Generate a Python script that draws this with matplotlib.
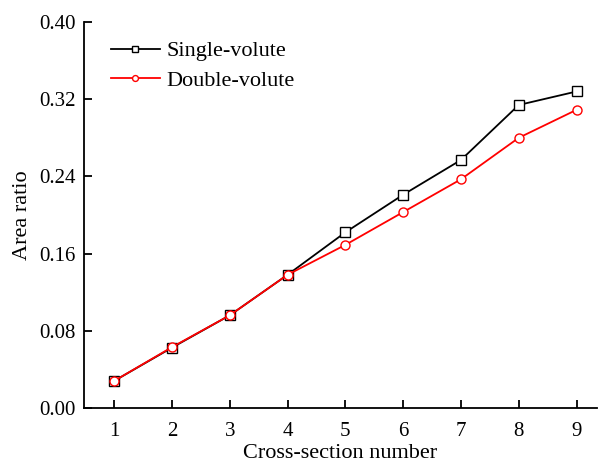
import matplotlib
matplotlib.use("Agg")
import matplotlib.pyplot as plt
from matplotlib.ticker import FormatStrFormatter

# cross-section index and area ratio for the two volute layouts
secoes = [1, 2, 3, 4, 5, 6, 7, 8, 9]
razao_simples = [0.028, 0.0625, 0.096, 0.138, 0.182, 0.221, 0.257, 0.314, 0.328]
razao_dupla = [0.028, 0.063, 0.096, 0.138, 0.169, 0.203, 0.237, 0.280, 0.309]
ticks_y = [0.00, 0.08, 0.16, 0.24, 0.32, 0.40]

plt.rcParams['font.family'] = ['Liberation Serif', 'DejaVu Serif']

fig = plt.figure(figsize=(5.98, 4.65), dpi=100)
ax = fig.add_axes([0.1405, 0.1226, 0.8575, 0.8301])

ax.plot(secoes, razao_simples, color='black', linewidth=1.3, marker='s',
        markersize=6.5, markerfacecolor='white', markeredgecolor='black',
        markeredgewidth=1.0, label='Single-volute')
ax.plot(secoes, razao_dupla, color='red', linewidth=1.3, marker='o',
        markersize=6.5, markerfacecolor='white', markeredgecolor='red',
        markeredgewidth=1.0, label='Double-volute')

ax.set_xlim(0.48, 9.35)
ax.set_ylim(0.0, 0.40)
ax.set_xticks(secoes)
ax.set_yticks(ticks_y)
ax.yaxis.set_major_formatter(FormatStrFormatter('%.2f'))

ax.spines['top'].set_visible(False)
ax.spines['right'].set_visible(False)
for lado in ['left', 'bottom']:
    ax.spines[lado].set_linewidth(1.3)
ax.tick_params(direction='in', length=6, width=1.3, labelsize=15)
ax.tick_params(axis='y', pad=6)
ax.tick_params(axis='x', pad=10)

ax.set_xlabel('Cross-section number', fontsize=16, labelpad=2)
ax.set_ylabel('Area ratio', fontsize=16, labelpad=5)

ax.legend(loc='upper left', bbox_to_anchor=(0.035, 0.974), frameon=False,
          fontsize=16, handlelength=2.2, markerscale=0.65, borderaxespad=0,
          handletextpad=0.3, labelspacing=0.4)

fig.savefig('out.png', dpi=100)
